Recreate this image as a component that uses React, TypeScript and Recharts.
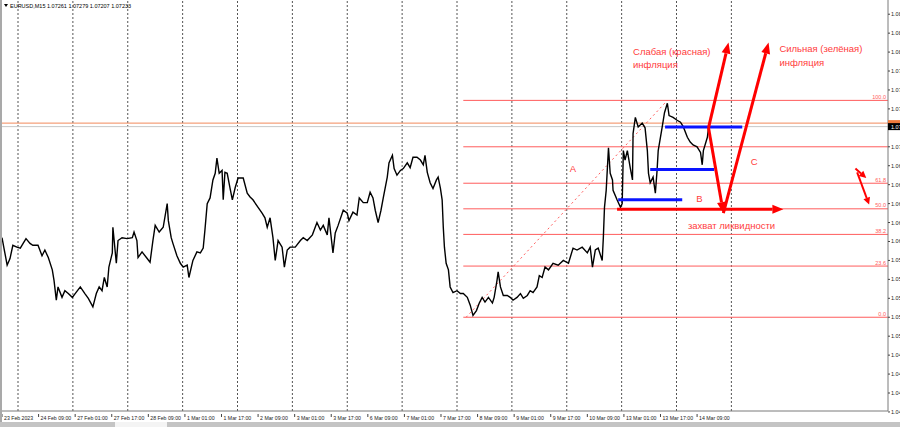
import React from 'react';
import { ComposedChart, Line, XAxis, YAxis, ReferenceLine, ReferenceDot } from 'recharts';

// EURUSD M15, close prices (bar index counted from 23 Feb 17:00)
const barIndex = [
  0, 5, 9, 14, 19, 26, 32, 37, 42, 49, 54, 63, 70, 75, 81, 88, 91, 95, 98, 105,
  110, 116, 123, 128, 137, 145, 151, 159, 165, 170, 175, 179, 184, 187, 193, 194, 200, 203, 210, 219,
  228, 231, 236, 238, 245, 254, 259, 264, 268, 275, 282, 289, 291, 296, 299, 306, 312,
  317, 324, 327, 334, 341, 347, 352, 355, 359, 364, 369, 373, 376, 380, 385, 387, 390, 394, 399, 403,
  408, 413, 422, 429, 434, 439, 448, 455, 460, 464, 469, 474, 478, 483, 490, 494, 499, 504, 513, 522,
  527, 534, 543, 551, 557, 562, 569, 572, 579, 583, 588, 597, 604, 607, 614, 621, 625,
  632, 639, 644, 649, 653, 658, 663, 667, 674, 677, 683, 686, 691, 697, 702, 709, 714, 719, 726, 732,
  737, 740, 744, 749, 754, 760, 763, 767, 770, 772, 774, 777, 781, 784, 789, 796, 802, 807, 814, 819,
  824, 830, 835, 840, 845, 851, 858, 861, 866, 868, 872, 877, 884, 889, 894, 901, 907, 912, 919, 924,
  929, 936, 940,
  945, 950, 956, 964, 973, 982, 991, 999, 1006, 1015, 1024, 1029, 1033, 1038, 1043, 1050, 1052, 1054, 1057, 1061,
  1064, 1068, 1069, 1076, 1082, 1085, 1087, 1090, 1094, 1099, 1103, 1104, 1108, 1113, 1120, 1125, 1129, 1131, 1134, 1139,
  1143, 1146, 1148, 1155, 1159, 1164, 1167, 1174, 1181, 1187, 1192, 1199, 1204, 1209, 1216, 1222, 1225, 1227, 1234, 1236,
];

const closePrice = [
  1.0606, 1.059, 1.0577, 1.0584, 1.0598, 1.0596, 1.0595, 1.06, 1.0605, 1.06,
  1.0598, 1.0598, 1.0587, 1.0593, 1.0585, 1.0572, 1.0561, 1.054, 1.0554, 1.0543,
  1.055, 1.0547, 1.0543, 1.0547, 1.0554, 1.0547, 1.0542, 1.0533, 1.0547, 1.0554,
  1.055, 1.0564, 1.0554, 1.0575, 1.059, 1.0617, 1.0579, 1.0603, 1.0606, 1.0605,
  1.0606, 1.0612, 1.0603, 1.0585, 1.0591, 1.0584, 1.058, 1.0603, 1.0619, 1.0612,
  1.0617, 1.0642, 1.0624, 1.0606, 1.06, 1.0587, 1.0579,
  1.0575, 1.0577, 1.0564, 1.0582, 1.0591, 1.059, 1.0595, 1.0614, 1.0642, 1.0648,
  1.0667, 1.0674, 1.069, 1.0674, 1.0677, 1.0646, 1.0675, 1.0674, 1.0658, 1.0646,
  1.0659, 1.0669, 1.0669, 1.0653, 1.0649, 1.0646, 1.0638, 1.0632, 1.0627, 1.0617,
  1.0627, 1.0606, 1.0582, 1.0603, 1.0596, 1.0575, 1.0593, 1.0596, 1.0596, 1.0603,
  1.0606, 1.0603, 1.0609, 1.0622, 1.0614, 1.0619, 1.0609, 1.0627, 1.059, 1.0611,
  1.0619, 1.0635, 1.0632, 1.0624, 1.0633, 1.063, 1.0648,
  1.0643, 1.0643, 1.0654, 1.0648, 1.0635, 1.0622, 1.0635, 1.0648, 1.067, 1.0685,
  1.0693, 1.0679, 1.0672, 1.0677, 1.0679, 1.0685, 1.068, 1.0691, 1.0691, 1.0688,
  1.0683, 1.0693, 1.0675, 1.0664, 1.0658, 1.0667, 1.067, 1.0658, 1.0646, 1.0617,
  1.0596, 1.0579, 1.0572, 1.0554, 1.0548, 1.055, 1.0547, 1.0547, 1.0543, 1.0535,
  1.0524, 1.0529, 1.0537, 1.0543, 1.0538, 1.0543, 1.0537, 1.0543, 1.0561, 1.057,
  1.0554, 1.0545, 1.0545, 1.0543, 1.054, 1.0543, 1.0547, 1.0542, 1.0545, 1.055,
  1.0548, 1.0554, 1.0566,
  1.0564, 1.0575, 1.0572, 1.0579, 1.0577, 1.0582, 1.0579, 1.0595, 1.0593, 1.0596,
  1.059, 1.0596, 1.0575, 1.0593, 1.0595, 1.0582, 1.0606, 1.0638, 1.0656, 1.0701,
  1.0674, 1.0667, 1.0656, 1.0646, 1.0638, 1.0642, 1.0698, 1.0688, 1.0698, 1.068,
  1.0667, 1.0716, 1.0733, 1.0723, 1.0727, 1.0722, 1.0698, 1.0674, 1.0664, 1.067,
  1.0653, 1.0677, 1.0698, 1.0723, 1.0738, 1.0748, 1.0735, 1.0733, 1.073, 1.0728,
  1.0723, 1.0712, 1.0707, 1.0704, 1.0702, 1.0696, 1.0683, 1.0698, 1.0712, 1.0722,
];

const timeTickBars = [0, 64, 128, 192, 256, 320, 384, 448, 512, 576, 640, 704, 768, 832, 896, 960, 1024, 1088, 1152, 1216];
const timeTickLabels = [
  '23 Feb 2023', '24 Feb 09:00', '27 Feb 01:00', '27 Feb 17:00', '28 Feb 09:00', '1 Mar 01:00', '1 Mar 17:00',
  '2 Mar 09:00', '3 Mar 01:00', '3 Mar 17:00', '6 Mar 09:00', '7 Mar 01:00', '7 Mar 17:00', '8 Mar 09:00',
  '9 Mar 01:00', '9 Mar 17:00', '10 Mar 09:00', '13 Mar 01:00', '13 Mar 17:00', '14 Mar 09:00',
];
const dayGridBars = [28, 124, 220, 316, 412, 508, 604, 700, 796, 892, 988, 1084, 1180, 1276];
const priceTicks = [
  1.0842, 1.0822, 1.0802, 1.0782, 1.0762, 1.0742, 1.0702, 1.0682, 1.0662, 1.0642, 1.0622,
  1.0602, 1.0582, 1.0562, 1.0542, 1.0522, 1.0502, 1.0482, 1.0462, 1.0442, 1.0422,
];

const header = 'EURUSD,M15  1.07261 1.07279 1.07207 1.07233';
const lastPrice = 1.07233;
const markerLine = 1.0727;

// fibonacci grid drawn from the 8 Mar low to the 14 Mar high
const fibLow = { bar: 812, price: 1.0522 };
const fibHigh = { bar: 1164, price: 1.0751 };
const fibStartBar = 807;
const fibRatios = [0, 0.236, 0.382, 0.5, 0.618, 0.786, 1];
const fibLabels = ['0.0', '23.6', '38.2', '50.0', '61.8', '', '100.0'];

const blueLevels = [
  { from: 1160, to: 1295, price: 1.0723 },
  { from: 1134, to: 1246, price: 1.0678 },
  { from: 1078, to: 1190, price: 1.0646 },
];
const bigArrows = [
  { x1: 1236, y1: 1.0722, x2: 1271, y2: 1.0812 },
  { x1: 1236, y1: 1.0722, x2: 1262, y2: 1.0632 },
  { x1: 1262, y1: 1.0632, x2: 1341, y2: 1.0812 },
  { x1: 1076, y1: 1.0636, x2: 1367, y2: 1.0636 },
];
const smallArrows = [
  { x1: 1493, y1: 1.0679, x2: 1512, y2: 1.0669 },
  { x1: 1496, y1: 1.0675, x2: 1517, y2: 1.0641 },
];
const notes = [
  { bar: 1104, price: 1.0802, text: 'Слабая (красная)', anchor: 'start' },
  { bar: 1104, price: 1.0789, text: 'инфляция', anchor: 'start' },
  { bar: 1360, price: 1.0806, text: 'Сильная (зелёная)', anchor: 'start' },
  { bar: 1360, price: 1.0791, text: 'инфляция', anchor: 'start' },
  { bar: 999, price: 1.0679, text: 'A', anchor: 'middle' },
  { bar: 1220, price: 1.0647, text: 'B', anchor: 'middle' },
  { bar: 1316, price: 1.0686, text: 'C', anchor: 'middle' },
  { bar: 1200, price: 1.0619, text: 'захват ликвидности', anchor: 'start' },
];

const FONT = '"Liberation Sans", Arial, sans-serif';
const RED = '#ff0000';
const NOTE_RED = '#ff3b3b';
const FIB_RED = '#ff5c5c';
const AXIS = '#7a7a7a';

const series = barIndex.map((b, i) => ({ bar: b, price: closePrice[i] }));

function arrowShape(head: number, half: number) {
  return (p: any) => {
    const { x1, y1, x2, y2 } = p;
    const dx = x2 - x1;
    const dy = y2 - y1;
    const len = Math.hypot(dx, dy) || 1;
    const ux = dx / len;
    const uy = dy / len;
    const bx = x2 - ux * head;
    const by = y2 - uy * head;
    const nx = -uy * half;
    const ny = ux * half;
    return (
      <g>
        <line x1={x1} y1={y1} x2={bx} y2={by} stroke={p.stroke} strokeWidth={p.strokeWidth} />
        <polygon points={`${x2},${y2} ${bx + nx},${by + ny} ${bx - nx},${by - ny}`} fill={p.stroke} />
      </g>
    );
  };
}

function TimeTick({ x, y, payload }: any) {
  const label = timeTickLabels[timeTickBars.indexOf(payload.value)];
  return (
    <g>
      <line x1={x} x2={x} y1={y + 3} y2={y + 6} stroke="#444" />
      <text x={x + 2} y={y + 8.5} fontSize={5.2} fill="#222" fontFamily={FONT}>
        {label}
      </text>
    </g>
  );
}

function PriceTick({ x, y, payload }: any) {
  return (
    <g>
      <line x1={x} x2={x + 2} y1={y} y2={y} stroke="#444" />
      <text x={x + 3} y={y + 2} fontSize={5.5} fill="#222" fontFamily={FONT}>
        {payload.value.toFixed(5)}
      </text>
    </g>
  );
}

export default function App() {
  const fibRange = fibHigh.price - fibLow.price;
  return (
    <div
      style={{
        position: 'absolute',
        left: 0,
        top: 0,
        width: 900,
        height: 427,
        overflow: 'hidden',
        background: '#fff',
        fontFamily: FONT,
      }}
    >
      <ComposedChart width={940} height={422} data={series} margin={{ top: 0, right: 0, bottom: 0, left: 2 }}>
        <XAxis
          type="number"
          dataKey="bar"
          domain={[0, 1550]}
          allowDataOverflow
          ticks={timeTickBars}
          interval={0}
          tick={<TimeTick />}
          tickLine={false}
          tickSize={0}
          tickMargin={0}
          height={11}
          stroke={AXIS}
        />
        <YAxis
          orientation="right"
          domain={[1.0423, 1.0857]}
          allowDataOverflow
          ticks={priceTicks}
          interval={0}
          tick={<PriceTick />}
          tickLine={false}
          tickSize={0}
          tickMargin={0}
          width={52}
          stroke={AXIS}
        />
        {dayGridBars.map((b) => (
          <ReferenceLine key={`g${b}`} x={b} stroke="#555" strokeDasharray="2 2" strokeWidth={1} />
        ))}
        <ReferenceLine y={markerLine} stroke="#f28a5c" strokeWidth={1} />
        <ReferenceLine y={lastPrice} stroke="#c8c8c8" strokeWidth={1} />
        {fibRatios.map((r) => (
          <ReferenceLine
            key={`f${r}`}
            segment={[
              { x: fibStartBar, y: fibLow.price + r * fibRange },
              { x: 1550, y: fibLow.price + r * fibRange },
            ]}
            stroke={FIB_RED}
            strokeWidth={1}
          />
        ))}
        <ReferenceLine
          segment={[
            { x: fibLow.bar, y: fibLow.price },
            { x: fibHigh.bar, y: fibHigh.price },
          ]}
          stroke={FIB_RED}
          strokeDasharray="2 3"
          strokeWidth={1}
        />
        <Line
          dataKey="price"
          type="linear"
          stroke="#000"
          strokeWidth={1.4}
          dot={false}
          activeDot={false}
          isAnimationActive={false}
        />
        {blueLevels.map((l, i) => (
          <ReferenceLine
            key={`b${i}`}
            segment={[
              { x: l.from, y: l.price },
              { x: l.to, y: l.price },
            ]}
            stroke="#0a14ff"
            strokeWidth={3}
          />
        ))}
        {bigArrows.map((a, i) => (
          <ReferenceLine
            key={`a${i}`}
            segment={[
              { x: a.x1, y: a.y1 },
              { x: a.x2, y: a.y2 },
            ]}
            stroke={RED}
            strokeWidth={3}
            shape={arrowShape(11, 4.5)}
          />
        ))}
        {smallArrows.map((a, i) => (
          <ReferenceLine
            key={`s${i}`}
            segment={[
              { x: a.x1, y: a.y1 },
              { x: a.x2, y: a.y2 },
            ]}
            stroke={RED}
            strokeWidth={2}
            shape={arrowShape(7, 3.5)}
          />
        ))}
        {fibRatios.map((r, i) => (
          <ReferenceDot
            key={`fl${r}`}
            x={1550}
            y={fibLow.price + r * fibRange}
            ifOverflow="visible"
            shape={(p: any) => (
              <text x={p.cx - 2} y={p.cy - 1.5} textAnchor="end" fontSize={5.5} fill={FIB_RED} fontFamily={FONT}>
                {fibLabels[i]}
              </text>
            )}
          />
        ))}
        {notes.map((n, i) => (
          <ReferenceDot
            key={`n${i}`}
            x={n.bar}
            y={n.price}
            ifOverflow="visible"
            shape={(p: any) => (
              <text
                x={p.cx}
                y={p.cy + 3.4}
                textAnchor={n.anchor}
                fontSize={9.5}
                fill={NOTE_RED}
                fontFamily={FONT}
              >
                {n.text}
              </text>
            )}
          />
        ))}
        <ReferenceDot
          x={1550}
          y={markerLine}
          ifOverflow="visible"
          shape={(p: any) => <rect x={p.cx} y={p.cy - 3} width={52} height={5} fill="#f07a3c" />}
        />
        <ReferenceDot
          x={1550}
          y={lastPrice}
          ifOverflow="visible"
          shape={(p: any) => (
            <g>
              <rect x={p.cx} y={p.cy - 3.5} width={52} height={7} fill="#000" />
              <text x={p.cx + 3} y={p.cy + 2} fontSize={5.5} fill="#fff" fontFamily={FONT}>
                {lastPrice.toFixed(5)}
              </text>
            </g>
          )}
        />
      </ComposedChart>
      <svg width={900} height={427} style={{ position: 'absolute', left: 0, top: 0, pointerEvents: 'none' }}>
        <rect x={0} y={0} width={2} height={422} fill="#a9a9a9" />
        <polygon points="4,4 8,4 6,7" fill="#000" />
        <text x={10} y={7.5} fontSize={5.5} fill="#000" fontFamily={FONT}>
          {header}
        </text>
        <rect x={0} y={422} width={900} height={5} fill="#c4c4c4" />
        <rect x={115} y={422} width={52} height={5} fill="#f4f4f4" />
      </svg>
    </div>
  );
}
